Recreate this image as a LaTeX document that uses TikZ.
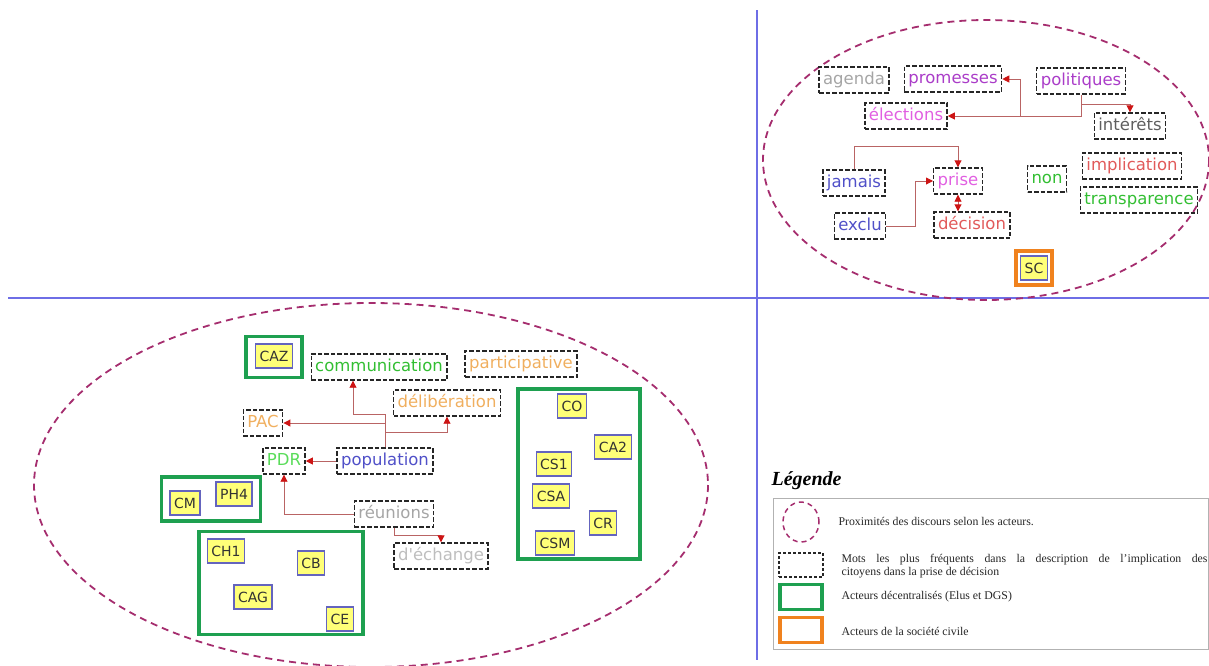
\documentclass[tikz,border=0pt]{standalone}
\usepackage{fontspec}
\setmainfont{Liberation Serif}
\newfontfamily\wordfont{DejaVu Sans}
\usetikzlibrary{arrows.meta, positioning, shapes.geometric}

\definecolor{axisblue}{RGB}{110,110,230}
\definecolor{proxred}{RGB}{165,45,110}
\definecolor{linkred}{RGB}{185,100,100}
\definecolor{tipred}{RGB}{205,20,20}
\definecolor{actgreen}{RGB}{30,160,80}
\definecolor{actorange}{RGB}{240,130,30}
\definecolor{actblue}{RGB}{100,100,190}
\definecolor{actyellow}{RGB}{255,255,120}
\definecolor{wgray}{RGB}{165,165,165}
\definecolor{wlightgray}{RGB}{190,190,190}
\definecolor{wdarkgray}{RGB}{95,95,95}
\definecolor{wpurple}{RGB}{170,60,200}
\definecolor{wviolet}{RGB}{225,95,225}
\definecolor{wblue}{RGB}{80,80,200}
\definecolor{wgreen}{RGB}{50,190,50}
\definecolor{wlightgreen}{RGB}{90,220,90}
\definecolor{wred}{RGB}{225,90,90}
\definecolor{worange}{RGB}{240,175,95}

\begin{document}
\begin{tikzpicture}[
  x=1pt, y=-1pt,
  >={Triangle[length=7pt,width=7pt,color=tipred]},
  word/.style={draw=black!85, dash pattern=on 4.5pt off 2pt, line width=1.4pt,
    inner xsep=4pt, inner ysep=5pt, text height=12pt, text depth=4pt,
    font=\wordfont\fontsize{16.5}{18}\selectfont},
  actor/.style={draw=actblue, line width=1.2pt, fill=actyellow, text=black!80,
    inner xsep=4pt, inner ysep=6.5pt, text height=10.5pt, text depth=0.5pt,
    font=\wordfont\fontsize{14}{16}\selectfont},
  elus/.style={draw=actgreen, line width=3.5pt, inner sep=0pt},
  civil/.style={draw=actorange, line width=4pt, inner sep=4pt},
  link/.style={->, draw=linkred, line width=0.9pt},
  proxi/.style={draw=proxred, line width=1.8pt, dash pattern=on 7pt off 5pt},
  axis/.style={draw=axisblue, line width=1.5pt},
  legtext/.style={font=\fontsize{11.8}{12.5}\selectfont, text=black!85, anchor=west}
]
\useasboundingbox (0,0) rectangle (1209,665);

% axes
\coordinate (vtop) at (757,10);
\coordinate (vbot) at (757,660);
\coordinate (hleft) at (8,298);
\coordinate (hright) at (1209,298);
\draw[axis] (vtop) -- (vbot);
\draw[axis] (hleft) -- (hright);

% proximity of discourses
\draw[proxi] (986,160) ellipse [x radius=223, y radius=140];
\draw[proxi] (371,485) ellipse [x radius=337, y radius=182];

% words, civil society side
\node[word, text=wgray] (agenda) at (854,80) {agenda};
\node[word, text=wpurple] (promesses) at (953,79) {promesses};
\node[word, text=wpurple] (politiques) at (1081,81) {politiques};
\node[word, text=wviolet] (elections) at (906,116) {élections};
\node[word, text=wdarkgray] (interets) at (1130,126) {intérêts};
\node[word, text=wblue] (jamais) at (854,183) {jamais};
\node[word, text=wviolet] (prise) at (958,181) {prise};
\node[word, text=wgreen] (non) at (1047,179) {non};
\node[word, text=wred] (implication) at (1132,166) {implication};
\node[word, text=wgreen] (transparence) at (1139,200) {transparence};
\node[word, text=wblue] (exclu) at (860,226) {exclu};
\node[word, text=wred] (decision) at (972,225) {décision};

% civil society actor
\node[civil] (gSC) at (1034,268) {\tikz\node[actor] (SC) {SC};};

% links, civil society side
\coordinate (jprom) at (1020,116);
\draw[link] (politiques.south) |- (elections.east);
\draw[link] (jprom) |- (promesses.east);
\draw[link] ([yshift=-10pt]politiques.south) -| (interets.north);
\draw[link] (jamais.north) -- ++(0,-23) -| (prise.north);
\draw[link] (exclu.east) -- ++(29,0) |- (prise.west);
\draw[link, <->] (prise.south) -- (prise.south |- decision.north);

% words, decentralised side
\node[word, text=wgreen] (communication) at (379,367) {communication};
\node[word, text=worange] (participative) at (521,364) {participative};
\node[word, text=worange] (deliberation) at (447,403) {délibération};
\node[word, text=worange] (PAC) at (263,423) {PAC};
\node[word, text=wlightgreen] (PDR) at (284,461) {PDR};
\node[word, text=wblue] (population) at (385,461) {population};
\node[word, text=wgray] (reunions) at (394,514) {réunions};
\node[word, text=wlightgray] (dechange) at (441,556) {d'échange};

% links, decentralised side
\draw[link] (population.west) -- (PDR.east);
\draw[link] (population.north) |- (PAC.east);
\draw[link] (population.north) -- ++(0,-33) -| ([xshift=-26pt]communication.south);
\draw[link] (population.north) -- ++(0,-15) -| (deliberation.south);
\draw[link] (reunions.west) -| (PDR.south);
\draw[link] (reunions.south) -- ++(0,8) -| (dechange.north);

% decentralised actors
\node[elus, minimum width=56, minimum height=41] (gCAZ) at (274,357) {};
\node[actor] (CAZ) at (274,356) {CAZ};

\node[elus, minimum width=99, minimum height=44] (gCM) at (211,499) {};
\node[actor] (CM) at (185,503) {CM};
\node[actor] (PH4) at (234,494) {PH4};

\node[elus, minimum width=164, minimum height=103] (gCH) at (281,583) {};
\node[actor] (CH1) at (226,551) {CH1};
\node[actor] (CB) at (311,563) {CB};
\node[actor] (CAG) at (253,597) {CAG};
\node[actor] (CE) at (340,619) {CE};

\node[elus, minimum width=122, minimum height=170] (gCO) at (579,474) {};
\node[actor] (CO) at (572,406) {CO};
\node[actor] (CA2) at (613,447) {CA2};
\node[actor] (CS1) at (554,464) {CS1};
\node[actor] (CSA) at (551,496) {CSA};
\node[actor] (CR) at (603,523) {CR};
\node[actor] (CSM) at (555,543) {CSM};

% legend
\node[anchor=west, font=\bfseries\itshape\fontsize{20}{22}\selectfont] (legtitle) at (768,481) {Légende};
\node[draw=gray!60, line width=0.8pt, minimum width=435, minimum height=151, anchor=north west] (legbox) at (773,498) {};
\node[ellipse, draw=proxred, line width=1.5pt, dash pattern=on 5pt off 4pt, minimum width=36pt, minimum height=40pt] (lgprox) at (801,522) {};
\node[draw=black!85, line width=1.2pt, dash pattern=on 3pt off 2pt, minimum width=44, minimum height=24] (lgword) at (801,565) {};
\node[elus, minimum width=42, minimum height=25] (lgelus) at (801,597) {};
\node[draw=actorange, line width=3.5pt, minimum width=42, minimum height=25] (lgcivil) at (801,630) {};
\node[legtext] at (835,521) {Proximités des discours selon les acteurs.};
\node[legtext, text width=366pt, align=justify] at (838,566) {Mots les plus fréquents dans la description de l’implication des\linebreak citoyens dans la prise de décision};
\node[legtext] at (838,597) {Acteurs décentralisés (Elus et DGS)};
\node[legtext] at (838,631) {Acteurs de la société civile};
\end{tikzpicture}
\end{document}
